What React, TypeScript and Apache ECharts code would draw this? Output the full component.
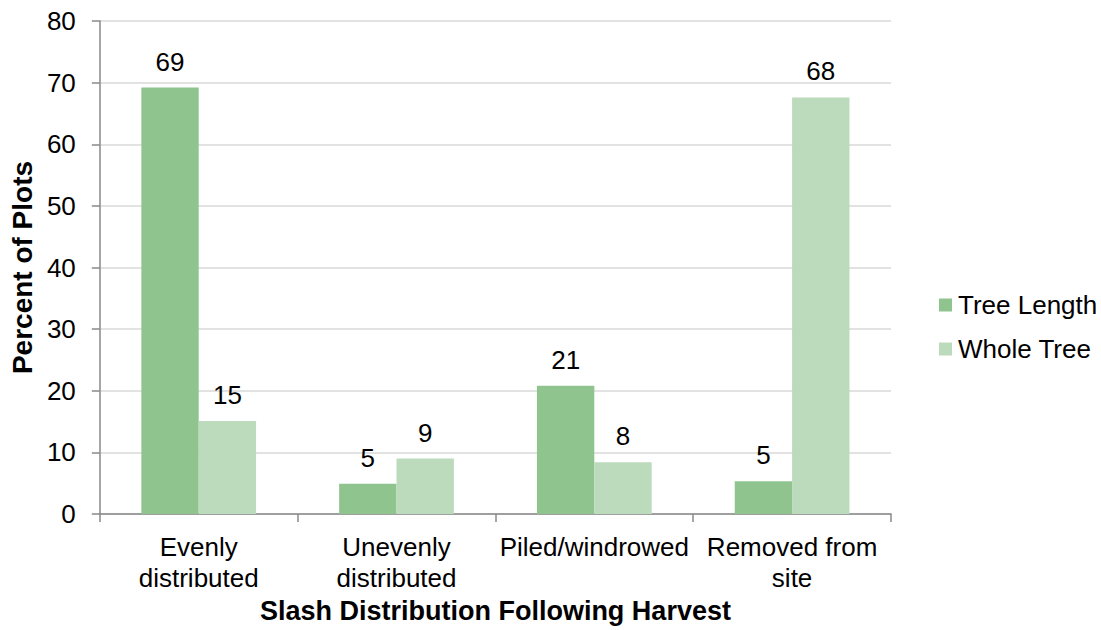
import React, { useEffect, useRef } from "react";
import * as echarts from "echarts";

const categories = ["Evenly\ndistributed", "Unevenly\ndistributed", "Piled/windrowed", "Removed from\nsite"];
const treeLength = [69.2, 4.9, 20.8, 5.3];
const wholeTree = [15.1, 9.0, 8.4, 67.6];

export default function App() {
  const ref = useRef<HTMLDivElement>(null);
  useEffect(() => {
    const chart = echarts.init(ref.current!, null, { renderer: "svg" });
    const font = "Liberation Sans, Arial, sans-serif";
    const label = {
      show: true,
      position: "top",
      distance: 13,
      color: "#000",
      fontSize: 26,
      fontFamily: font,
      formatter: (p: any) => String(Math.round(p.value)),
    };
    chart.setOption({
      animation: false,
      textStyle: { fontFamily: font },
      grid: { left: 97, right: 210, top: 21, bottom: 116, containLabel: false },
      legend: {
        orient: "vertical",
        left: 934,
        top: 287,
        itemWidth: 13,
        itemHeight: 13,
        itemGap: 18,
        icon: "rect",
        textStyle: { fontSize: 26, color: "#000", fontFamily: font, padding: [0, 0, 0, 1] },
        data: ["Tree Length", "Whole Tree"],
      },
      xAxis: {
        type: "category",
        data: categories,
        name: "Slash Distribution Following Harvest",
        nameLocation: "middle",
        nameGap: 82,
        nameTextStyle: { fontSize: 27, fontWeight: "bold", color: "#000", fontFamily: font },
        axisLine: { lineStyle: { color: "#888", width: 1.5 } },
        axisTick: { show: true, length: 8, lineStyle: { color: "#888", width: 1.5 } },
        axisLabel: { fontSize: 26, color: "#000", lineHeight: 31, margin: 17, fontFamily: font, interval: 0 },
      },
      yAxis: {
        type: "value",
        min: 0,
        max: 80,
        interval: 10,
        name: "Percent of Plots",
        nameLocation: "middle",
        nameGap: 63,
        nameTextStyle: { fontSize: 28, fontWeight: "bold", color: "#000", fontFamily: font },
        axisLine: { show: true, lineStyle: { color: "#888", width: 1.5 } },
        axisTick: { show: true, length: 8, lineStyle: { color: "#888", width: 1.5 } },
        axisLabel: { fontSize: 26, color: "#000", margin: 24, fontFamily: font },
        splitLine: { lineStyle: { color: "#d9d9d9", width: 1.5 } },
      },
      series: [
        {
          name: "Tree Length",
          type: "bar",
          data: treeLength,
          itemStyle: { color: "#8fc48f" },
          barGap: "0%",
          barCategoryGap: "42%",
          label,
        },
        {
          name: "Whole Tree",
          type: "bar",
          data: wholeTree,
          itemStyle: { color: "#bcdabc" },
          barGap: "0%",
          barCategoryGap: "42%",
          label,
        },
      ],
    });
    return () => chart.dispose();
  }, []);
  return (
    <div
      ref={ref}
      style={{ position: "fixed", left: 0, top: 0, width: 1101, height: 630, background: "#fff" }}
    />
  );
}
